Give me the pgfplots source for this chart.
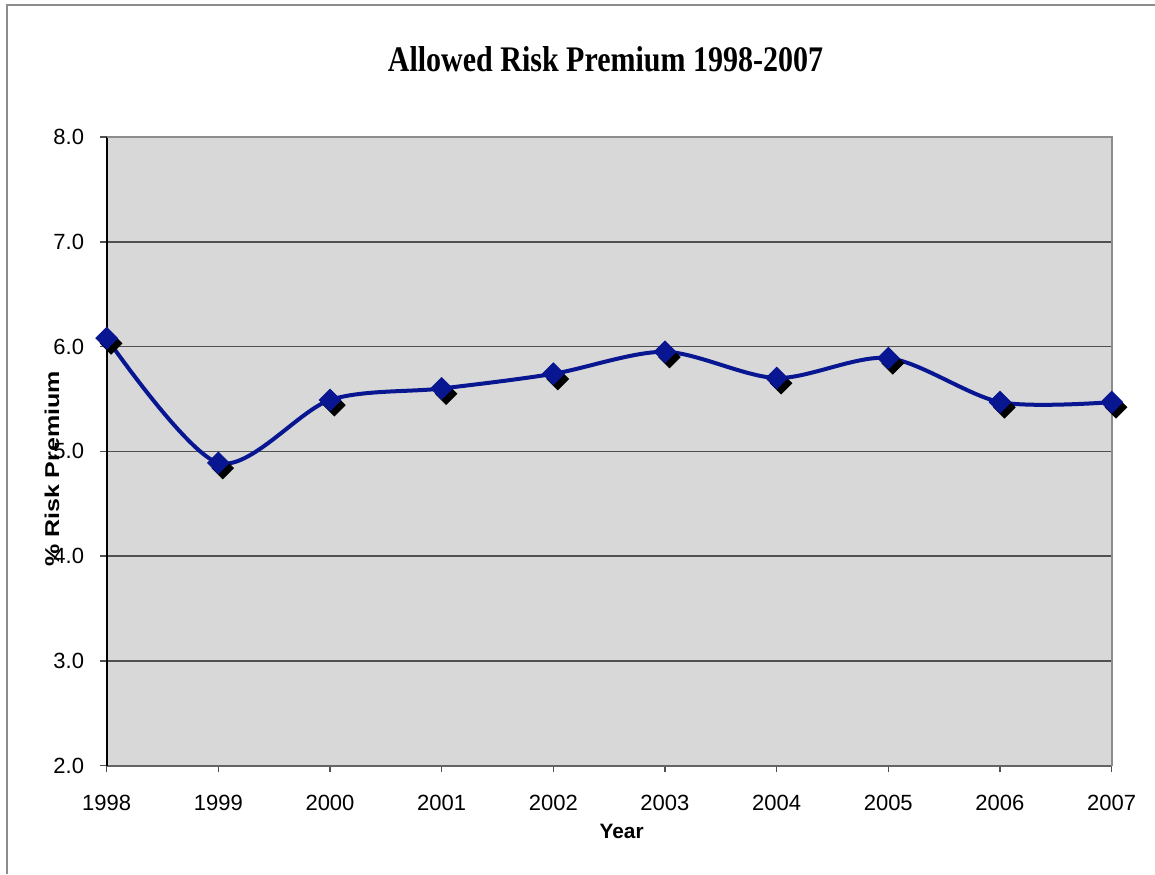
\documentclass[border=0pt]{standalone}
\usepackage{fontspec}
\setmainfont{Liberation Sans}
\newfontfamily\titlefont{Liberation Serif}
\usepackage{graphicx}
\usepackage{pgfplots}
\usepackage{pgfplotstable}
\pgfplotsset{compat=1.18}

\definecolor{plotbg}{RGB}{216,216,216}
\definecolor{seriesblue}{RGB}{8,22,145}
\definecolor{gridgray}{RGB}{80,80,80}
\definecolor{framegray}{RGB}{140,140,140}

% Allowed risk premium by year (%)
\pgfplotstableread{
year premium
1998 6.08
1999 4.89
2000 5.49
2001 5.60
2002 5.74
2003 5.95
2004 5.70
2005 5.89
2006 5.47
2007 5.47
}\premiumdata

\begin{document}
\begin{tikzpicture}
\useasboundingbox (0,0) rectangle (577.5pt,437pt);
% outer chart frame
\draw[framegray, line width=1pt] (3.35pt,0) -- (3.35pt,434.5pt) -- (577.5pt,434.5pt);
\begin{axis}[
  at={(53.35pt,54.15pt)}, anchor=south west,
  scale only axis, width=502.5pt, height=314.35pt,
  xmin=1998, xmax=2007, ymin=2, ymax=8,
  xtick={1998,...,2007}, ytick={2,...,8},
  axis background/.style={fill=plotbg},
  axis x line*=bottom, axis y line*=left,
  x axis line style={draw={rgb,255:red,100;green,100;blue,100}, line width=1pt, -},
  y axis line style={draw=black, line width=1pt, -},
  tick align=outside, major tick length=3.3pt,
  tick style={gridgray, line width=0.75pt},
  ymajorgrids, major grid style={gridgray, line width=0.75pt},
  /pgf/number format/assume math mode=true,
  xticklabel style={font=\fontsize{11}{13}\selectfont, yshift=-8pt,
    /pgf/number format/1000 sep={}},
  yticklabel style={font=\fontsize{11}{13}\selectfont, xshift=-4.5pt,
    /pgf/number format/.cd, fixed, fixed zerofill, precision=1},
  title={\scalebox{1}[1.2]{\titlefont\bfseries\fontsize{15}{18}\selectfont Allowed Risk Premium 1998-2007}},
  title style={at={(axis description cs:0.4963,1.0853)}, anchor=base, inner sep=0pt, yshift=0pt},
  xlabel={\bfseries Year},
  xlabel style={at={(axis description cs:0.5124,-0.115)}, anchor=base, inner sep=0pt,
    font=\fontsize{10.4}{12}\selectfont},
  ylabel={\scalebox{1.25}[1]{\bfseries\% Risk Premium}},
  ylabel style={at={(axis description cs:-0.0544,0.472)}, anchor=center, inner sep=0pt,
    font=\fontsize{10}{12}\selectfont},
  clip=false,
]
% drop shadow of the markers
\addplot[only marks, mark=square*, mark size=3.8pt,
  mark options={xshift=2.2pt, yshift=-2.6pt, rotate=45, fill=black, draw=black}]
  table[x=year, y=premium] {\premiumdata};
% smoothed series with diamond markers
\addplot[seriesblue, line width=2pt, smooth, mark=square*, mark size=3.8pt,
  mark options={rotate=45, solid, fill=seriesblue, draw=seriesblue, line width=0.5pt}]
  table[x=year, y=premium] {\premiumdata};
% top and right edges of the plot area
\draw[framegray, line width=1pt] (rel axis cs:0,1) -- (rel axis cs:1,1) -- (rel axis cs:1,0);
\end{axis}
\end{tikzpicture}
\end{document}
